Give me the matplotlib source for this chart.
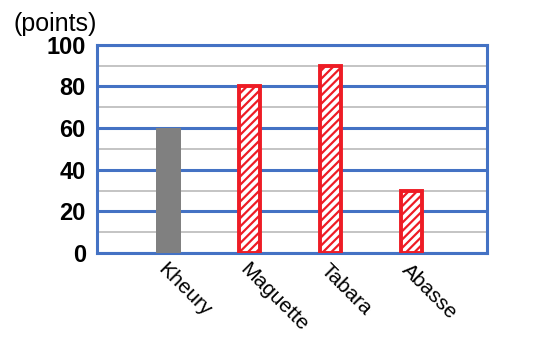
import numpy as np
import matplotlib.pyplot as plt
import matplotlib as mpl

names = ["Kheury", "Maguette", "Tabara", "Abasse"]
points = [60, 80, 90, 30]

blue = "#4472C4"
red = "#EE1C25"

mpl.rcParams['hatch.color'] = red
mpl.rcParams['hatch.linewidth'] = 1.6
plt.rcParams['font.family'] = ['Liberation Sans', 'DejaVu Sans']

fig = plt.figure(figsize=(5.57, 3.40), dpi=100)
ax = fig.add_axes([0.174, 0.256, 0.700, 0.612])

x = np.arange(len(names))
for i in x:
    if i == 0:
        ax.bar(x[i], points[i], width=0.31, color="#808080", zorder=3)
    else:
        ax.bar(x[i], points[i], width=0.26, facecolor="white", edgecolor=red,
               hatch="////", linewidth=2.8, zorder=3)

ax.set_xlim(-0.877, 3.926)
ax.set_ylim(0, 100)
ax.set_yticks(range(0, 101, 20))
ax.set_yticklabels([str(v) for v in range(0, 101, 20)], fontsize=17, fontweight='bold')
ax.set_yticks(range(10, 100, 20), minor=True)
ax.yaxis.grid(True, which='major', color=blue, linewidth=2.2, zorder=1)
ax.yaxis.grid(True, which='minor', color="#BFBFBF", linewidth=1.3, zorder=1)
ax.tick_params(axis='y', which='both', length=0, pad=8)
ax.set_xticks(x)
ax.set_xticklabels(names, rotation=-45, ha='left', va='top', rotation_mode='anchor', fontsize=15)
ax.tick_params(axis='x', length=0, pad=5)
for s in ax.spines.values():
    s.set_color(blue)
    s.set_linewidth(2.2)
ax.set_axisbelow(True)

fig.text(0.025, 0.91, "(points)", fontsize=18)

fig.savefig("out.png", dpi=100)
